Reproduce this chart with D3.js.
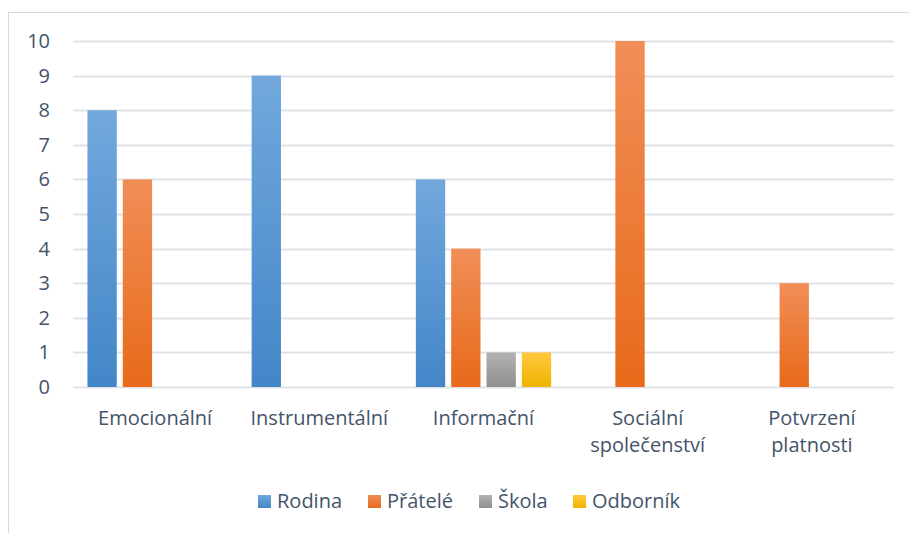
<!DOCTYPE html>
<html>
<head>
<meta charset="utf-8">
<script src="https://cdn.jsdelivr.net/npm/d3@7"></script>
<style>
  body { margin: 0; background: #fff; }
  text { font-family: "Open Sans", "Noto Sans", sans-serif; fill: #44546a; }
</style>
</head>
<body>
<div class="chart"></div>
<script>
const svgWidth = 909;
const svgHeight = 533;

const categories = [['Emocionální'], ['Instrumentální'], ['Informační'], ['Sociální', 'společenství'], ['Potvrzení', 'platnosti']];
const seriesNames = ['Rodina', 'Přátelé', 'Škola', 'Odborník'];
const rodina = [8, 9, 6, 0, 0];
const pratele = [6, 0, 4, 10, 3];
const skola = [0, 0, 1, 0, 0];
const odbornik = [0, 0, 1, 0, 0];
const yTicks = [0, 1, 2, 3, 4, 5, 6, 7, 8, 9, 10];

// gradient stops per series (top, bottom)
const colors = [
  ['#72a8dd', '#4386c8'],
  ['#f18e57', '#e76a1a'],
  ['#b2b2b2', '#8f8f8f'],
  ['#ffc93e', '#eeb400']
];

const fontSize = 20;

const margin = { top: 41, right: 15, bottom: 146, left: 73 };
const width = svgWidth - margin.left - margin.right;
const height = svgHeight - margin.top - margin.bottom;

const svg = d3.select('.chart')
  .append('svg')
  .attr('width', svgWidth)
  .attr('height', svgHeight);

const defs = svg.append('defs');
colors.forEach((c, i) => {
  const g = defs.append('linearGradient')
    .attr('id', 'grad' + i)
    .attr('x1', 0).attr('y1', 0).attr('x2', 0).attr('y2', 1);
  g.append('stop').attr('offset', '0%').attr('stop-color', c[0]);
  g.append('stop').attr('offset', '100%').attr('stop-color', c[1]);
});

// outer frame
svg.append('rect')
  .attr('x', 8.5).attr('y', 12.5)
  .attr('width', 1000).attr('height', 1000)
  .attr('fill', 'none')
  .attr('stroke', '#d9d9d9');

const chartGroup = svg.append('g')
  .attr('transform', `translate(${margin.left}, ${margin.top})`);

const data = categories.map((c, i) => ({
  label: c,
  values: [rodina[i], pratele[i], skola[i], odbornik[i]]
}));

const x0 = d3.scaleBand()
  .domain(d3.range(categories.length))
  .range([0, width])
  .paddingInner(0.176)
  .paddingOuter(0.088);

const x1 = d3.scaleBand()
  .domain(d3.range(seriesNames.length))
  .range([0, x0.bandwidth()])
  .paddingInner(0.17);

const y = d3.scaleLinear()
  .domain([0, 10])
  .range([height, 0]);

// gridlines
chartGroup.append('g')
  .selectAll('line')
  .data(yTicks)
  .enter()
  .append('line')
  .attr('x1', 0)
  .attr('x2', width)
  .attr('y1', d => Math.round(y(d)) + 0.5)
  .attr('y2', d => Math.round(y(d)) + 0.5)
  .attr('stroke', '#dfe3e8')
  .attr('stroke-width', 2);

// y labels
const yAxis = chartGroup.append('g')
  .call(d3.axisLeft(y).tickValues(yTicks).tickSize(0).tickPadding(23));
yAxis.select('.domain').remove();
yAxis.attr('font-size', fontSize).attr('font-family', null);
yAxis.selectAll('text')
  .attr('font-size', fontSize)
  .attr('fill', '#44546a');

// bars
const groups = chartGroup.selectAll('.cat')
  .data(data)
  .enter()
  .append('g')
  .attr('transform', (d, i) => `translate(${x0(i)}, 0)`);

groups.selectAll('rect')
  .data(d => d.values.map((v, j) => ({ v, j })).filter(e => e.v > 0))
  .enter()
  .append('rect')
  .attr('x', d => x1(d.j))
  .attr('y', d => y(d.v))
  .attr('width', x1.bandwidth())
  .attr('height', d => y(0) - y(d.v))
  .attr('fill', d => `url(#grad${d.j})`);

// x labels
const xCenter = d3.scaleBand()
  .domain(d3.range(categories.length))
  .range([0, width]);

const xLabels = chartGroup.append('g')
  .attr('transform', `translate(0, ${height})`);
categories.forEach((lines, i) => {
  const t = xLabels.append('text')
    .attr('x', xCenter(i) + xCenter.bandwidth() / 2)
    .attr('y', 38)
    .attr('text-anchor', 'middle')
    .attr('font-size', fontSize);
  lines.forEach((line, k) => {
    t.append('tspan')
      .attr('x', xCenter(i) + xCenter.bandwidth() / 2)
      .attr('dy', k === 0 ? 0 : 27)
      .text(line);
  });
});

// legend
const legendX = [258, 368, 479, 573];
const legend = svg.append('g');
seriesNames.forEach((name, i) => {
  legend.append('rect')
    .attr('x', legendX[i])
    .attr('y', 495)
    .attr('width', 13)
    .attr('height', 13)
    .attr('fill', `url(#grad${i})`);
  legend.append('text')
    .attr('x', legendX[i] + 19)
    .attr('y', 508)
    .attr('font-size', fontSize)
    .text(name);
});
</script>
</body>
</html>
